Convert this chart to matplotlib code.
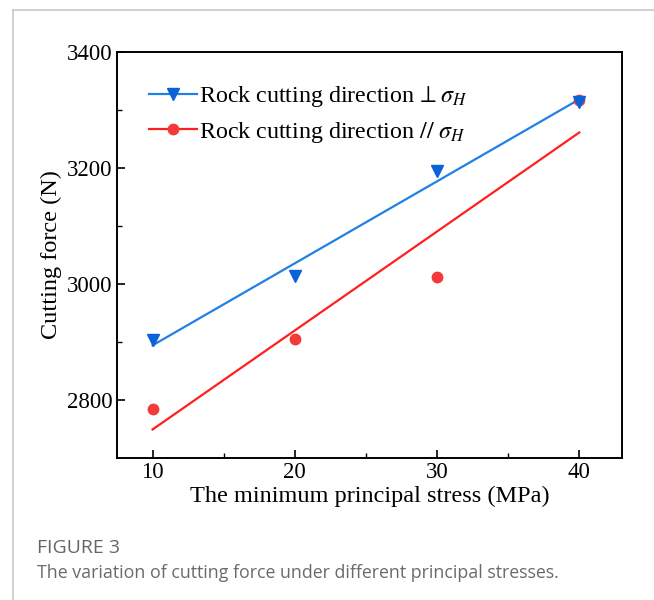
import numpy as np
import matplotlib
matplotlib.use("Agg")
import matplotlib.pyplot as plt
from matplotlib.lines import Line2D

# minimum principal stress (MPa)
stress = [10, 20, 30, 40]
# cutting force (N)
force_perp = [2902, 3014, 3194, 3314]
force_par = [2784, 2905, 3012, 3318]

label_perp = r"Rock cutting direction$\,\perp\sigma_H$"
label_par = r"Rock cutting direction $\mathit{//}\ \sigma_H$"

BLUE_LINE, BLUE_MK = "#1f80e6", "#0a62d6"
RED_LINE, RED_MK = "#ff1f1f", "#f23a3a"

plt.rcParams["font.family"] = ["Liberation Serif", "DejaVu Serif"]
plt.rcParams["mathtext.fontset"] = "stix"

W, H = 654, 600
fig = plt.figure(figsize=(W / 100, H / 100), dpi=100)
ax = fig.add_axes([117 / W, 1 - 457.5 / H, 505 / W, 405.5 / H])

x = np.array(stress)
for y, lc, mc, mk, ms in [(force_par, RED_LINE, RED_MK, "o", 7.5),
                          (force_perp, BLUE_LINE, BLUE_MK, "v", 8.5)]:
    k, b = np.polyfit(x, y, 1)
    ax.plot(x, k * x + b, color=lc, lw=1.6, zorder=2)
    ax.plot(x, y, ls="none", marker=mk, ms=ms, color=mc, zorder=3)

ax.set_xlim(7.5, 43)
ax.set_ylim(2700, 3400)
ax.set_xticks(stress)
ax.set_yticks([2800, 3000, 3200, 3400])
ax.set_xticks([15, 25, 35], minor=True)
ax.set_yticks([2900, 3100, 3300], minor=True)
ax.tick_params(which="major", direction="in", length=6, width=1.2,
               labelsize=16.5, pad=3)
ax.tick_params(which="minor", direction="in", length=3.5, width=1.0)
for s in ax.spines.values():
    s.set_linewidth(1.4)

ax.set_xlabel("The minimum principal stress (MPa)", fontsize=17.5, labelpad=2)
ax.set_ylabel("Cutting force (N)", fontsize=17.5, labelpad=4)

handles = [
    Line2D([], [], color=BLUE_LINE, lw=1.6, marker="v", ms=8.5,
           markerfacecolor=BLUE_MK, markeredgecolor=BLUE_MK),
    Line2D([], [], color=RED_LINE, lw=1.6, marker="o", ms=7.5,
           markerfacecolor=RED_MK, markeredgecolor=RED_MK),
]
ax.legend(handles, [label_perp, label_par], loc="upper left",
          bbox_to_anchor=(0.044, 0.945), frameon=False, fontsize=17.3,
          handlelength=2.0, handletextpad=0.1, labelspacing=0.45,
          borderaxespad=0)

# page frame lines and caption
gray = "#c8c8c8"
fig.add_artist(Line2D([13 / W, 1], [1 - 10 / H] * 2, color=gray, lw=1.2))
fig.add_artist(Line2D([13 / W] * 2, [0, 1 - 10 / H], color=gray, lw=1.2))
fig.text(37 / W, 1 - 548 / H, "FIGURE 3", family="Open Sans", fontsize=14,
         color="#666666", va="center", ha="left")
fig.text(37 / W, 1 - 573 / H,
         "The variation of cutting force under different principal stresses.",
         family="Open Sans", fontsize=12.8, color="#6a6a6a",
         va="center", ha="left")

fig.savefig("out.png", dpi=100)
